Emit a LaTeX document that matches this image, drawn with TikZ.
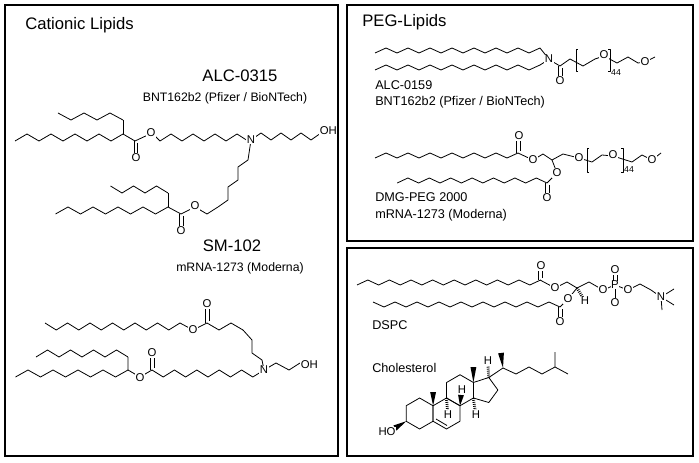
\documentclass[tikz,border=0pt]{standalone}
\usepackage{fontspec}
\setmainfont{Liberation Sans}
\usetikzlibrary{calc}
\tikzset{
  bond/.style={line width=0.6pt, line join=round},
  frame/.style={line width=1.1pt},
  atom/.style={fill=white, inner sep=0.4pt, font=\fontsize{8.5}{9}\selectfont},
  sub/.style={inner sep=0pt, font=\fontsize{6.5}{6.5}\selectfont},
  title/.style={anchor=west, inner sep=0pt, font=\fontsize{12.5}{14}\selectfont},
  bigname/.style={inner sep=0pt, font=\fontsize{12.5}{14}\selectfont},
  label/.style={anchor=west, inner sep=0pt, font=\fontsize{9.5}{11}\selectfont},
  hashw/.style={line width=2.2pt, dash pattern=on 0.6pt off 0.9pt}
}
\newcommand\zz[5]{\draw[bond] (#1,#2) \foreach \i in {1,...,#3}{ -- ++(#4,{ifthenelse(mod(\i,2)==1,1,-1)*(#5)})};}
\newcommand\hexr[2]{\draw[bond] (#1,#2) +(30:15.5) -- +(90:15.5) -- +(150:15.5) -- +(210:15.5) -- +(270:15.5) -- +(330:15.5) -- cycle;}
\newcommand\wedgeb[2]{\fill (#1) -- ($(#2)!2.2pt!90:(#1)$) -- ($(#2)!2.2pt!-90:(#1)$) -- cycle;}
\begin{document}
\begin{tikzpicture}[x=0.75pt,y=-0.75pt]
\useasboundingbox (0,0) rectangle (699,463);
\fill[white] (0,0) rectangle (699,463);
% frames
\draw[frame] (5,5) rectangle (338,456);
\draw[frame] (347,5) rectangle (693,241);
\draw[frame] (347,248) rectangle (693,456);
\node[title] (t1) at (25,25) {Cationic Lipids};
\node[title] (t2) at (362,22) {PEG-Lipids};

% ---------- ALC-0315 ----------
\node[bigname] (n1) at (240,76) {ALC-0315};
\node[inner sep=0pt,font=\fontsize{9.2}{11}\selectfont] (n1b) at (225,98) {BNT162b2 (Pfizer / BioNTech)};
\zz{15}{141}{9}{12}{-7}
\draw[bond] (123,134)--(123,120);
\zz{123}{120}{5}{-13}{-7}
\draw[bond] (123,134)--(135,141)--(150,134);
\draw[bond] (134,141)--(134,153) (137.5,143)--(137.5,153);
\zz{155}{136}{1}{5}{5}
\zz{160}{141}{8}{11}{-7}
\zz{251}{140}{7}{10}{-7}
\draw[bond] (251,140)--(248,160)--(238,167)--(238,180)--(228,187)--(228,200)--(218,207)--(207,214)--(195,207)--(181,214)--(168,207);
\draw[bond] (179.5,214)--(179.5,226) (183,216)--(183,226);
\draw[bond] (168,207)--(168,193);
\zz{168}{193}{5}{-11.5}{-7}
\zz{168}{207}{9}{-12.5}{7}
\node[atom] (o1) at (136,158) {O};
\node[atom] (o2) at (151,133) {O};
\node[atom] (nA) at (251,140) {N};
\node[atom,anchor=west] (oh1) at (319,131) {OH};
\node[atom] (o3) at (195,206) {O};
\node[atom] (o4) at (181,231) {O};

% ---------- SM-102 ----------
\node[bigname] (n2) at (232,246) {SM-102};
\node[inner sep=0pt,font=\fontsize{9.2}{11}\selectfont] (n2b) at (240,268) {mRNA-1273 (Moderna)};
\zz{45}{323}{12}{11.25}{7}
\draw[bond] (180,323)--(193,330)--(207,323);
\draw[bond] (205.5,323)--(205.5,309) (209,321)--(209,309);
\zz{207}{323}{3}{12}{7}
\draw[bond] (243,330)--(252,340)--(252,353)--(262,360)--(264,370)--(276,363)--(289,370)--(300,363);
\zz{264}{370}{10}{-11.2}{7}
\draw[bond] (150.5,370)--(150.5,357) (154,368)--(154,357);
\draw[bond] (152,370)--(140,377)--(128,370)--(128,357);
\zz{128}{357}{8}{-11.5}{-7}
\zz{128}{370}{9}{-12.5}{7}
\node[atom] (o5) at (193,330) {O};
\node[atom] (o6) at (207,304) {O};
\node[atom] (nB) at (264,370) {N};
\node[atom,anchor=west] (oh2) at (300,365) {OH};
\node[atom] (o7) at (152,353) {O};
\node[atom] (o8) at (140,378) {O};

% ---------- ALC-0159 ----------
\zz{375}{53}{15}{11}{-5}
\draw[bond] (540,48)--(548,58);
\zz{375}{70}{15}{11}{-5}
\draw[bond] (540,65)--(548,60);
\draw[bond] (548,59)--(560,66)--(570,59)--(583,66)--(595,59)--(604,56)--(617,63)--(628,57)--(638,63)--(645,62)--(655,57);
\draw[bond] (558.5,66)--(558.5,77) (562,68)--(562,77);
\draw[bond] (578,71)--(576,71)--(576,49)--(578,49);
\draw[bond] (608,71)--(610,71)--(610,49)--(608,49);
\node[atom] (nC) at (549,59) {N};
\node[atom] (o9) at (560,81) {O};
\node[atom] (o10) at (604,55) {O};
\node[atom] (o11) at (645,62) {O};
\node[sub] (s1) at (616,73) {44};
\node[label] (l1) at (375,85) {ALC-0159};
\node[label] (l2) at (375,102) {BNT162b2 (Pfizer / BioNTech)};

% ---------- DMG-PEG 2000 ----------
\zz{375}{158}{13}{11}{-5}
\draw[bond] (516.5,153)--(516.5,141) (520,151)--(520,141);
\draw[bond] (518,153)--(533,160)--(543,154)--(552,160)--(563,154)--(579,158)--(592,162)--(602,155)--(613,156)--(632,162)--(642,155)--(652,160)--(661,153);
\draw[bond] (589,172)--(587,172)--(587,148)--(589,148);
\draw[bond] (621,172)--(623,172)--(623,148)--(621,148);
\draw[bond] (552,160)--(557,173)--(547,183);
\draw[bond] (545.5,183)--(545.5,194) (549,185)--(549,194);
\zz{547}{183}{14}{-10.7}{-5}
\node[atom] (o12) at (519,136) {O};
\node[atom] (o13) at (533,160) {O};
\node[atom] (o14) at (579,158) {O};
\node[atom] (o15) at (613,155) {O};
\node[atom] (o16) at (652,160) {O};
\node[atom] (o17) at (557,173) {O};
\node[atom] (o18) at (547,198) {O};
\node[sub] (s2) at (629,170) {44};
\node[label] (l3) at (375,197) {DMG-PEG 2000};
\node[label] (l4) at (375,215) {mRNA-1273 (Moderna)};

% ---------- DSPC ----------
\zz{357}{285}{17}{10.8}{-5}
\draw[bond] (538.5,280)--(538.5,270) (542,278)--(542,270);
\draw[bond] (540,280)--(555,288)--(567,282)--(577,288)--(589,282)--(603,290)--(615,285)--(628,290)--(640,284)--(651,290)--(661,297);
\draw[bond] (613.5,285)--(613.5,273) (617,285)--(617,273);
\draw[bond] (615,285)--(615,302);
\draw[bond] (661,297)--(674,289) (661,297)--(674,305) (661,297)--(662,310);
\draw[hashw] (577,288)--(583,298);
\draw[bond] (577,288)--(568,299)--(560,307);
\draw[bond] (558.5,307)--(558.5,318) (562,309)--(562,318);
\zz{560}{307}{17}{-11}{-5}
\node[atom] (o19) at (541,266) {O};
\node[atom] (o20) at (555,288) {O};
\node[atom] (o21) at (603,290) {O};
\node[atom] (pp) at (615,285) {P};
\node[atom] (o22) at (615,270) {O};
\node[atom] (o23) at (615,303) {O};
\node[atom] (o24) at (628,290) {O};
\node[atom] (nD) at (661,297) {N};
\node[atom] (h1) at (585,301) {H};
\node[atom] (o25) at (568,299) {O};
\node[atom] (o26) at (560,322) {O};
\node[label] (l5) at (372,325) {DSPC};
\node[label] (l6) at (372,368) {Cholesterol};

% ---------- Cholesterol ----------
\hexr{419.6}{413.5}
\hexr{446.5}{413.5}
\hexr{460}{390.25}
\draw[bond] (473.4,382.5)--(488.8,377.5)--(497.9,390)--(488.8,402.5)--(473.4,398);
\draw[bond] (436,419)--(447,425.5);
\wedgeb{433.1,405.75}{433.1,392}
\wedgeb{473.4,382.5}{473.4,367}
\wedgeb{460,405.75}{461,395}
\wedgeb{406.2,421.25}{395,428}
\draw[hashw] (446.5,398)--(447.5,410);
\draw[hashw] (473.4,398)--(475,410);
\draw[hashw] (488.8,377.5)--(488,366);
\draw[bond] (488.8,377.5)--(503,368)--(516,374)--(529,367)--(542,374)--(555,367)--(555,352) (555,367)--(568,374);
\wedgeb{503,368}{501,353}
\node[atom] (h2) at (462,390) {H};
\node[atom] (h3) at (448,415) {H};
\node[atom] (h4) at (476,415) {H};
\node[atom] (h5) at (488,361) {H};
\node[atom] (ho) at (387,432) {HO};
\end{tikzpicture}
\end{document}
